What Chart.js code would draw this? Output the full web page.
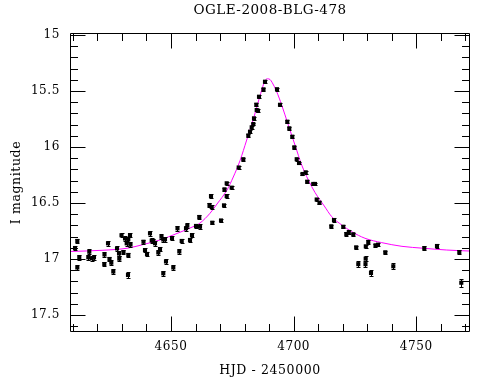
<!DOCTYPE html>
<html><head><meta charset="utf-8">
<script src="https://cdn.jsdelivr.net/npm/chart.js@4.4.0/dist/chart.umd.min.js"></script>
<style>html,body{margin:0;padding:0;background:#fff;}canvas{display:block;}</style>
</head><body>
<canvas id="c" width="490" height="380"></canvas>
<script>
const chartTitle = 'OGLE-2008-BLG-478';
const xTitle = 'HJD - 2450000';
const yTitle = 'I magnitude';
const xTickLabels = [4650, 4700, 4750];
const yTickLabels = [15, 15.5, 16, 16.5, 17, 17.5];
const xRange = [4608.83, 4771.9];
const yRange = [14.982, 17.652];

// observed points (HJD-2450000, I mag, error)
const hjd = [
 4611.81,4610.87,4612.62,4611.81,4616.70,4616.29,4617.68,4618.61,4622.89,4622.81,
 4624.32,4624.93,4625.67,4626.48,4627.99,4628.81,4628.93,4629.83,4631.25,4631.94,
 4632.60,4633.29,4633.49,4630.64,4632.60,4632.47,4638.79,4639.40,4640.22,4641.44,
 4642.14,4642.79,4643.48,4644.83,4645.52,4646.13,4646.86,4647.56,
 4647.96,4646.86,4650.41,4650.94,4652.65,4653.39,4654.37,4656.12,4656.65,4657.75,
 4658.56,4660.20,4661.54,4661.83,
 4666.31,4665.70,4666.60,4666.84,4670.39,4671.61,4672.71,4671.81,4672.71,4674.75,
 4677.60,4679.48,
 4681.52,4682.21,4682.90,4683.56,4683.84,4684.94,4685.47,4684.78,4685.88,4687.71,
 4688.32,4693.22,4694.44,4697.41,4698.23,4699.45,4700.27,4701.25,4702.19,4703.61,
 4704.92,4705.53,4708.01,4708.71,
 4709.40,4710.54,4716.45,4715.35,4720.24,4721.47,4722.49,4724.32,4725.50,4729.42,
 4730.43,4733.37,4734.39,4737.37,
 4726.36,4729.37,4729.29,4731.54,4740.63,
 4753.27,4758.44,4767.54,4768.35
];
const mag = [
 16.839,16.902,16.985,17.076,16.935,16.985,16.994,16.985,16.960,17.045,
 16.860,17.000,17.033,17.112,16.906,16.951,16.997,16.788,16.817,16.860,
 16.824,16.786,16.871,16.938,16.964,17.143,16.846,16.920,16.955,16.771,
 16.835,16.839,16.860,16.942,16.911,16.801,16.826,16.824,
 17.022,17.128,16.813,17.076,16.726,16.933,16.839,16.726,16.703,16.830,
 16.786,16.705,16.625,16.712,
 16.438,16.518,16.536,16.676,16.656,16.521,16.438,16.378,16.324,16.363,
 16.183,16.109,
 15.897,15.863,15.824,15.795,15.744,15.670,15.676,15.622,15.551,15.485,
 15.417,15.484,15.623,15.774,15.833,15.908,16.003,16.109,16.143,16.241,
 16.226,16.310,16.330,16.330,
 16.469,16.497,16.652,16.708,16.712,16.777,16.759,16.779,16.896,16.887,
 16.848,16.878,16.872,16.940,
 17.046,16.997,17.046,17.125,17.065,
 16.904,16.884,16.938,17.212
];
const magErr = [
 0.02,0.02,0.02,0.02,0.02,0.02,0.02,0.02,0.02,0.02,
 0.02,0.02,0.02,0.025,0.02,0.02,0.02,0.02,0.02,0.02,
 0.02,0.02,0.02,0.02,0.02,0.025,0.02,0.02,0.02,0.02,
 0.02,0.02,0.02,0.02,0.02,0.02,0.02,0.02,
 0.02,0.025,0.02,0.025,0.02,0.02,0.02,0.02,0.02,0.02,
 0.02,0.02,0.02,0.02,
 0.015,0.015,0.015,0.015,0.015,0.015,0.015,0.015,0.015,0.015,
 0.015,0.015,
 0.012,0.012,0.012,0.012,0.012,0.012,0.012,0.012,0.012,0.012,
 0.012,0.012,0.012,0.012,0.012,0.012,0.012,0.012,0.012,0.012,
 0.012,0.012,0.012,0.012,
 0.015,0.015,0.015,0.015,0.015,0.015,0.015,0.015,0.015,0.015,
 0.015,0.015,0.015,0.015,
 0.025,0.025,0.025,0.025,0.025,
 0.02,0.02,0.02,0.035
];

// model light curve
const modelHjd = [4608.83,4622.28,4632.07,4640.22,4645.52,4652.45,4658.97,4661.83,4665.90,4668.76,
 4672.83,4675.40,4678.13,4680.86,4683.56,4686.00,4688.32,4689.34,4690.36,4691.30,
 4693.09,4695.13,4697.82,4700.55,4703.29,4706.00,4708.71,4712.50,4715.52,4719.59,
 4723.67,4729.09,4735.90,4744.17,4752.86,4762.40,4771.88];
const modelMag = [16.933,16.922,16.904,16.862,16.830,16.772,16.712,16.679,16.592,16.509,
 16.384,16.268,16.122,15.938,15.753,15.565,15.408,15.391,15.397,15.426,
 15.506,15.625,15.804,15.982,16.161,16.295,16.406,16.527,16.622,16.696,
 16.756,16.815,16.854,16.887,16.904,16.920,16.929];

const serif = '"DejaVu Serif", "Liberation Serif", serif';

const textStyle = {
  id: 'textStyle',
  beforeDraw(chart) { chart.ctx.letterSpacing = '0.6px'; }
};

const frameTicks = {
  id: 'frameTicks',
  afterDatasetsDraw(chart) {
    const {ctx, chartArea: a, scales: {x, y}} = chart;
    ctx.save();
    // error bars
    ctx.beginPath();
    ctx.rect(a.left, a.top, a.right - a.left, a.bottom - a.top);
    ctx.clip();
    ctx.strokeStyle = '#000';
    ctx.lineWidth = 1;
    ctx.beginPath();
    const n = Math.min(hjd.length, mag.length, magErr.length);
    for (let i = 0; i < n; i++) {
      const px = Math.round(x.getPixelForValue(hjd[i])) + 0.5;
      const p1 = Math.round(y.getPixelForValue(mag[i] - magErr[i])) + 0.5;
      const p2 = Math.round(y.getPixelForValue(mag[i] + magErr[i])) + 0.5;
      ctx.moveTo(px, p1); ctx.lineTo(px, p2);
      ctx.moveTo(px - 2, p1); ctx.lineTo(px + 2, p1);
      ctx.moveTo(px - 2, p2); ctx.lineTo(px + 2, p2);
    }
    ctx.stroke();
    ctx.restore();

    ctx.save();
    ctx.strokeStyle = '#000';
    ctx.lineWidth = 1;
    ctx.beginPath();
    const L = a.left + 0.5, R = a.right - 0.5, T = a.top + 0.5, B = a.bottom - 0.5;
    ctx.rect(L, T, R - L, B - T);
    // x ticks
    const xs = Math.ceil(xRange[0] / 10) * 10;
    for (let v = xs; v <= xRange[1]; v += 10) {
      const px = Math.round(x.getPixelForValue(v)) + 0.5;
      const len = (v % 50 === 0) ? 15 : 7.5;
      ctx.moveTo(px, B); ctx.lineTo(px, B - len);
      ctx.moveTo(px, T); ctx.lineTo(px, T + len);
    }
    // y ticks
    for (let k = Math.ceil(yRange[0] * 10); k <= Math.floor(yRange[1] * 10); k++) {
      const py = Math.round(y.getPixelForValue(k / 10)) + 0.5;
      const len = (k % 5 === 0) ? 15 : 7.5;
      ctx.moveTo(L, py); ctx.lineTo(L + len, py);
      ctx.moveTo(R, py); ctx.lineTo(R - len, py);
    }
    ctx.stroke();

    // title
    ctx.fillStyle = '#000';
    ctx.font = '13.5px ' + serif;
    ctx.letterSpacing = '0.5px';
    ctx.textAlign = 'center';
    ctx.textBaseline = 'alphabetic';
    ctx.fillText(chartTitle, (a.left + a.right) / 2, 14);
    ctx.restore();
  }
};

new Chart(document.getElementById('c'), {
  type: 'scatter',
  data: {
    datasets: [
      {
        label: 'OGLE',
        data: hjd.map((h, i) => ({x: h, y: mag[i]})),
        pointStyle: 'rect',
        pointRadius: 2.9,
        pointBackgroundColor: '#000',
        pointBorderColor: '#000',
        pointBorderWidth: 0,
        showLine: false
      },
      {
        label: 'model',
        data: modelHjd.map((h, i) => ({x: h, y: modelMag[i]})),
        showLine: true,
        borderColor: '#ff00ff',
        borderWidth: 1,
        pointRadius: 0,
        fill: false,
        cubicInterpolationMode: 'monotone'
      }
    ]
  },
  options: {
    responsive: false,
    animation: false,
    devicePixelRatio: 1,
    layout: {padding: {left: 0, right: 20, top: 33, bottom: 0}},
    plugins: {legend: {display: false}, tooltip: {enabled: false}, title: {display: false}},
    scales: {
      x: {
        type: 'linear',
        min: xRange[0], max: xRange[1],
        afterFit: s => { s.height = 48; },
        afterBuildTicks: s => { s.ticks = xTickLabels.map(v => ({value: v})); },
        grid: {display: false, drawTicks: false},
        border: {display: false},
        ticks: {color: '#000', font: {family: serif, size: 12}, padding: 8, maxRotation: 0,
                callback: v => String(v)},
        title: {display: true, text: xTitle, color: '#000', font: {family: serif, size: 12.5},
                padding: {top: 0, bottom: 2}}
      },
      y: {
        type: 'linear',
        reverse: true,
        min: yRange[0], max: yRange[1],
        afterFit: s => { s.width = 70; },
        afterBuildTicks: s => { s.ticks = yTickLabels.map(v => ({value: v})); },
        grid: {display: false, drawTicks: false},
        border: {display: false},
        ticks: {color: '#000', font: {family: serif, size: 12}, padding: 10,
                callback: v => String(v)},
        title: {display: true, text: yTitle, color: '#000', font: {family: serif, size: 12.5},
                padding: {top: 9.3, bottom: 0}}
      }
    }
  },
  plugins: [textStyle, frameTicks]
});
</script>
</body></html>
